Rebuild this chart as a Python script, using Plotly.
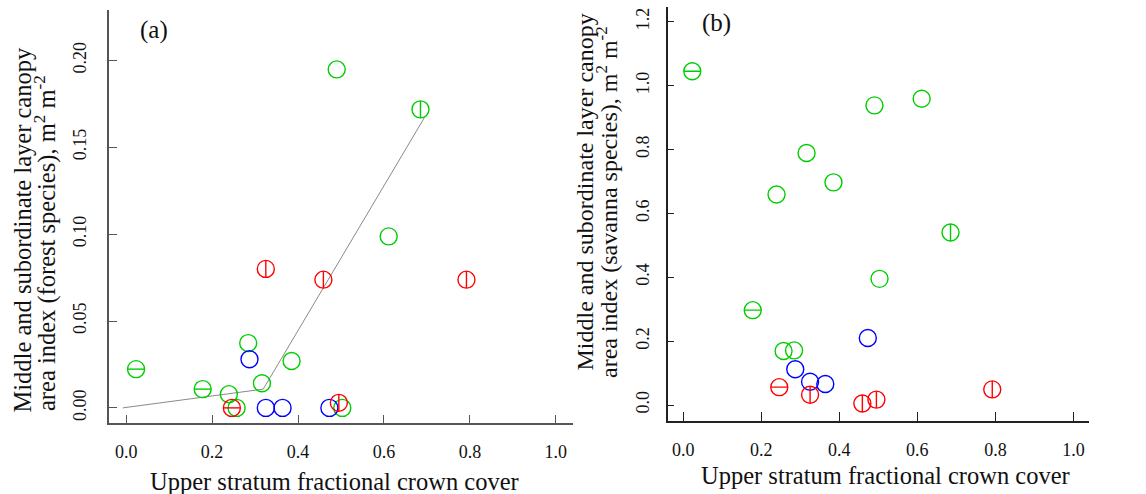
import plotly.graph_objects as go

# ---- data ----
site_cover = [0.023, 0.178, 0.239, 0.246, 0.257, 0.284, 0.287, 0.316, 0.385, 0.325,
              0.364, 0.473, 0.495, 0.503, 0.325, 0.459, 0.792, 0.611, 0.490, 0.685]
site_group = ["green", "green", "green", "red", "green", "green", "blue", "green", "green", "blue",
              "blue", "blue", "red", "green", "red", "red", "red", "green", "green", "green"]
site_mark = ["h", "h", "o", "h", "o", "o", "o", "o", "o", "o",
             "o", "o", "v", "o", "v", "v", "v", "o", "o", "v"]
lai_forest = [0.0223, 0.0108, 0.0079, 0.0, 0.0, 0.0373, 0.028, 0.0142, 0.027, 0.0,
              0.0, 0.0, 0.0029, 0.0, 0.080, 0.0738, 0.0738, 0.0987, 0.1948, 0.1718]
lai_savanna = [1.045, 0.297, 0.659, 0.056, 0.169, 0.171, 0.112, 0.789, 0.697, 0.073,
               0.066, 0.21, 0.017, 0.395, 0.032, 0.005, 0.049, 0.959, 0.938, 0.540]
fit_x = [-0.008, 0.319, 0.694]
fit_y = [0.0, 0.0108, 0.167]

x_ticks = [0.0, 0.2, 0.4, 0.6, 0.8, 1.0]
x_ticktext = ["0.0", "0.2", "0.4", "0.6", "0.8", "1.0"]
ya_ticks = [0.0, 0.05, 0.10, 0.15, 0.20]
ya_ticktext = ["0.00", "0.05", "0.10", "0.15", "0.20"]
yb_ticks = [0.0, 0.2, 0.4, 0.6, 0.8, 1.0, 1.2]
yb_ticktext = ["0.0", "0.2", "0.4", "0.6", "0.8", "1.0", "1.2"]

x_title = "Upper stratum fractional crown cover"
ya_title = ["Middle and subordinate layer canopy",
            "area index (forest species), m<sup>2</sup> m<sup>-2</sup>"]
yb_title = ["Middle and subordinate layer canopy",
            "area index (savanna species), m<sup>2</sup> m<sup>-2</sup>"]

# ---- styling ----
W, H = 1146, 494
FONT = "Liberation Serif"
COLORS = {"green": "#00CD00", "blue": "#0000FF", "red": "#FF0000"}
MSIZE = 17
MLW = 1.4

fig = go.Figure()

fig.add_trace(go.Scatter(x=fit_x, y=fit_y, mode="lines",
                         line=dict(color="#8a8a8a", width=1),
                         xaxis="x", yaxis="y", showlegend=False, hoverinfo="skip"))


def add_points(yvals, xa, ya):
    for g in ["green", "blue", "red"]:
        idx = [i for i in range(len(site_cover)) if site_group[i] == g]
        xs = [site_cover[i] for i in idx]
        ys = [yvals[i] for i in idx]
        fig.add_trace(go.Scatter(x=xs, y=ys, mode="markers", xaxis=xa, yaxis=ya,
                                 marker=dict(symbol="circle-open", size=MSIZE,
                                             color=COLORS[g], line=dict(width=MLW, color=COLORS[g])),
                                 showlegend=False))
        for mk, sym in [("h", "line-ew-open"), ("v", "line-ns-open")]:
            idm = [i for i in idx if site_mark[i] == mk]
            if not idm:
                continue
            fig.add_trace(go.Scatter(x=[site_cover[i] for i in idm], y=[yvals[i] for i in idm],
                                     mode="markers", xaxis=xa, yaxis=ya,
                                     marker=dict(symbol=sym, size=MSIZE / 1.4,
                                                 color=COLORS[g], line=dict(width=MLW, color=COLORS[g])),
                                     showlegend=False))


add_points(lai_forest, "x", "y")
add_points(lai_savanna, "x2", "y2")


def px(x):
    return x / W


def py(y):
    return 1 - y / H


axis_common = dict(showgrid=False, zeroline=False, showline=True, ticks="inside",
                   tickfont=dict(family=FONT, size=18, color="#111"), fixedrange=True)

fig.update_layout(
    width=W, height=H,
    margin=dict(l=0, r=0, t=0, b=0),
    paper_bgcolor="white", plot_bgcolor="white",
    font=dict(family=FONT, color="#111"),
    xaxis=dict(domain=[px(109), px(573)], range=[-0.04, 1.04], anchor="y",
               tickvals=x_ticks, ticktext=x_ticktext, ticklen=8, tickcolor="#555",
               linecolor="#555", linewidth=1.5, ticklabelstandoff=12, **axis_common),
    yaxis=dict(domain=[py(423), py(10)], range=[-0.0087, 0.229], anchor="x",
               tickvals=ya_ticks, ticktext=ya_ticktext, ticklen=8, tickcolor="#555",
               linecolor="#555", linewidth=1.5, tickangle=-90, ticklabelstandoff=14, **axis_common),
    xaxis2=dict(domain=[px(667.7), px(1089)], range=[-0.04, 1.04], anchor="y2",
                tickvals=x_ticks, ticktext=x_ticktext, ticklen=9, tickcolor="#222",
                linecolor="#222", linewidth=1.5, ticklabelstandoff=12, **axis_common),
    yaxis2=dict(domain=[py(420.7), py(7)], range=[-0.049, 1.246], anchor="x2",
                tickvals=yb_ticks, ticktext=yb_ticktext, ticklen=7, tickcolor="#222",
                linecolor="#222", linewidth=1.5, tickangle=-90, ticklabelstandoff=10, **axis_common),
)

ann = []
TF = dict(family=FONT, size=24.5, color="#111")
ann.append(dict(text=x_title, x=px(334), y=py(481), xanchor="center", yanchor="middle"))
ann.append(dict(text=x_title, x=px(885), y=py(475), xanchor="center", yanchor="middle"))
ann.append(dict(text=ya_title[0], x=px(22), y=py(415), xanchor="center", yanchor="bottom", textangle=-90))
ann.append(dict(text=ya_title[1], x=px(45), y=py(413), xanchor="center", yanchor="bottom", textangle=-90))
ann.append(dict(text=yb_title[0], x=px(584), y=py(373), xanchor="center", yanchor="bottom", textangle=-90,
                font=dict(family=FONT, size=24, color="#111")))
ann.append(dict(text=yb_title[1], x=px(607), y=py(380), xanchor="center", yanchor="bottom", textangle=-90,
                font=dict(family=FONT, size=24, color="#111")))
ann.append(dict(text="(a)", x=px(154), y=py(30), xanchor="center", yanchor="middle",
                font=dict(family=FONT, size=25, color="#111")))
ann.append(dict(text="(b)", x=px(716), y=py(23), xanchor="center", yanchor="middle",
                font=dict(family=FONT, size=25, color="#111")))
for a in ann:
    a.setdefault("font", TF)
    a.update(xref="paper", yref="paper", showarrow=False)
fig.update_layout(annotations=ann)

fig.write_html("out.html", config={"displayModeBar": False},
               post_script="document.body.style.margin='0';document.body.style.overflow='hidden';")
